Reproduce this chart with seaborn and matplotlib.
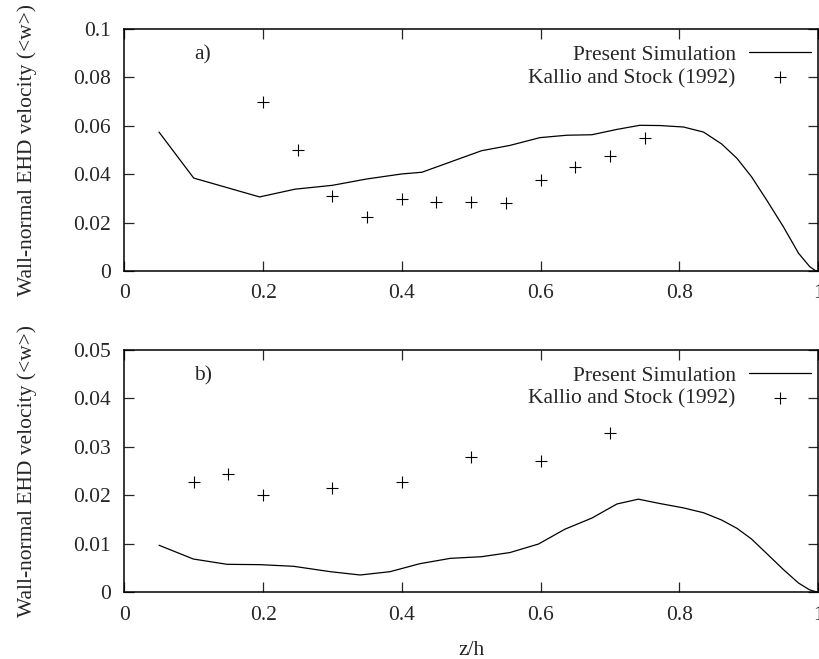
import numpy as np
import pandas as pd
import seaborn as sns
import matplotlib
matplotlib.use("Agg")
import matplotlib.pyplot as plt
from matplotlib.ticker import FormatStrFormatter, MultipleLocator

# ---- data: panel a ----
sim_a_x = [0.05, 0.10, 0.195, 0.246, 0.30, 0.349, 0.40, 0.429, 0.515, 0.556, 0.599,
           0.638, 0.674, 0.710, 0.743, 0.772, 0.806, 0.835, 0.861, 0.883, 0.904,
           0.926, 0.950, 0.972, 0.988, 0.996, 1.0]
sim_a_y = [0.0574, 0.0384, 0.0306, 0.0338, 0.0354, 0.0380, 0.0401, 0.0408, 0.0497,
           0.0519, 0.0551, 0.0561, 0.0563, 0.0585, 0.0602, 0.0601, 0.0595, 0.0574,
           0.0525, 0.0466, 0.0390, 0.0293, 0.0183, 0.0073, 0.0018, 0.0002, 0.0]
exp_a_x = [0.20, 0.25, 0.30, 0.35, 0.40, 0.45, 0.50, 0.55, 0.60, 0.65, 0.70, 0.75]
exp_a_y = [0.0700, 0.0500, 0.0311, 0.0224, 0.0298, 0.0286, 0.0286, 0.0280, 0.0375,
           0.0431, 0.0476, 0.0551]

# ---- data: panel b ----
sim_b_x = [0.05, 0.0995, 0.148, 0.196, 0.244, 0.297, 0.340, 0.383, 0.426, 0.470,
           0.515, 0.556, 0.597, 0.635, 0.674, 0.710, 0.741, 0.772, 0.806, 0.835,
           0.861, 0.883, 0.904, 0.926, 0.950, 0.972, 0.988, 1.0]
sim_b_y = [0.0097, 0.00686, 0.00577, 0.0057, 0.00536, 0.00425, 0.00357, 0.00425,
           0.0059, 0.0070, 0.00734, 0.0082, 0.00995, 0.0130, 0.0153, 0.0182, 0.0192,
           0.0183, 0.0174, 0.0164, 0.0149, 0.0132, 0.0110, 0.0080, 0.0047, 0.0019,
           0.0005, 0.0]
exp_b_x = [0.10, 0.15, 0.20, 0.30, 0.40, 0.50, 0.60, 0.70]
exp_b_y = [0.0228, 0.0243, 0.0200, 0.0214, 0.0228, 0.0279, 0.0271, 0.0328]

x_ticks = [0, 0.2, 0.4, 0.6, 0.8, 1.0]
ylim_a = (0, 0.1)
ylim_b = (0, 0.05)
ystep_a = 0.02
ystep_b = 0.01
panel_labels = ["a)", "b)"]
sim_label = "Present Simulation"
exp_label = "Kallio and Stock (1992)"
ylabel = "Wall-normal EHD velocity (<w>)"
xlabel = "z/h"

sns.set_style("ticks")
plt.rcParams["font.family"] = ["Liberation Serif", "DejaVu Serif"]
FS = 15.5

fig = plt.figure(figsize=(8.19, 6.59), dpi=100)
ax_a = fig.add_axes([0.1518, 0.5888, 0.9988 - 0.1518, 0.956 - 0.5888])
ax_b = fig.add_axes([0.1518, 0.1012, 0.9988 - 0.1518, 0.4693 - 0.1012])

panels = [
    (ax_a, sim_a_x, sim_a_y, exp_a_x, exp_a_y, ylim_a, ystep_a, 0.872),
    (ax_b, sim_b_x, sim_b_y, exp_b_x, exp_b_y, ylim_b, ystep_b, 0.875),
]

for i, (ax, sx, sy, ex, ey, ylim, ystep, ly) in enumerate(panels):
    sim_df = pd.DataFrame({"x": sx, "y": sy})
    exp_df = pd.DataFrame({"x": ex, "y": ey})
    sns.lineplot(data=sim_df, x="x", y="y", ax=ax, color="black", linewidth=0.9,
                 label=sim_label, sort=False)
    sns.scatterplot(data=exp_df, x="x", y="y", ax=ax, marker="+", color="black",
                    s=70, linewidth=0.8, label=exp_label)
    ax.set_xlim(0, 1)
    ax.set_ylim(*ylim)
    ax.set_xticks(x_ticks)
    ax.yaxis.set_major_locator(MultipleLocator(ystep))
    ax.xaxis.set_major_formatter(FormatStrFormatter("%g"))
    ax.yaxis.set_major_formatter(FormatStrFormatter("%g"))
    ax.tick_params(direction="in", length=7, width=0.9, top=True, right=True,
                   labelsize=FS, pad=9.5)
    ax.tick_params(axis="y", pad=9.5)
    for sp in ax.spines.values():
        sp.set_linewidth(1.1)
        sp.set_color("black")
    ax.set_ylabel(ylabel, fontsize=FS, labelpad=26)
    ax.set_xlabel("")
    ax.text(0.1005, ly, panel_labels[i], transform=ax.transAxes, fontsize=FS,
            va="baseline", ha="left")
    ax.legend(loc="upper right", bbox_to_anchor=(0.99, 0.935), frameon=False,
              markerfirst=False, fontsize=FS, handlelength=2.9, handletextpad=0.6,
              labelspacing=0.15, borderpad=0, borderaxespad=0)

ax_b.set_xlabel(xlabel, fontsize=FS, labelpad=12)

fig.savefig("out.png", dpi=100)
